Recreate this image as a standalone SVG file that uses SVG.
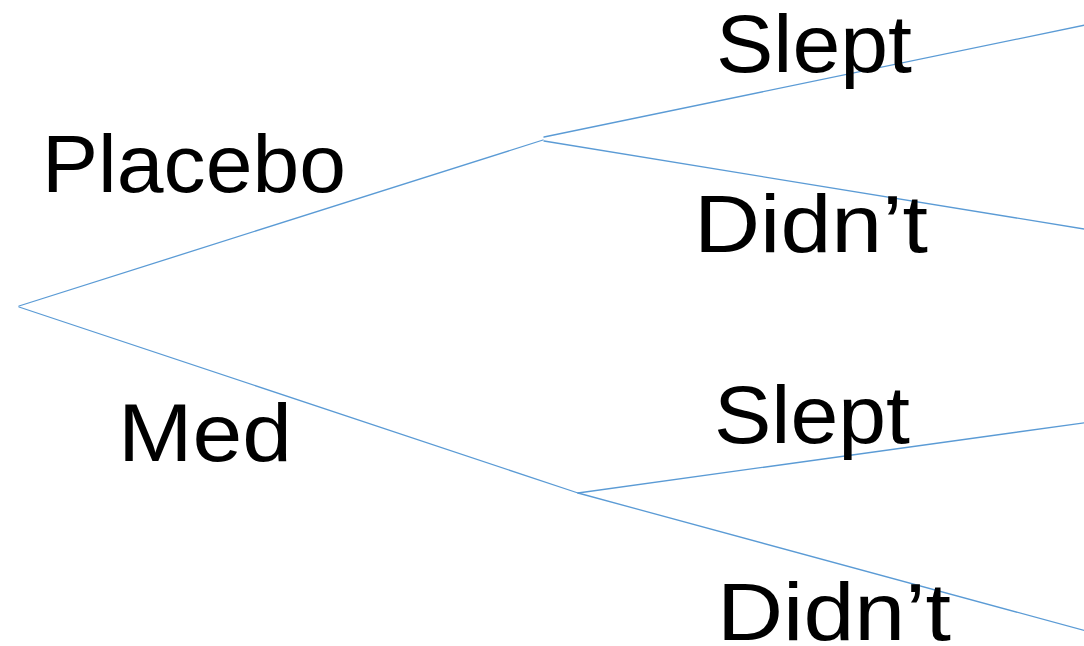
<svg xmlns="http://www.w3.org/2000/svg" width="1084" height="646" viewBox="0 0 1084 646">
  <style>
    .edge { stroke: #5B9BD5; stroke-width: 1.3; fill: none; stroke-linecap: round; }
    .label { font-family: "Liberation Sans", Arial, sans-serif; font-size: 82px; fill: #000; }
  </style>
  <rect width="1084" height="646" fill="#fff"/>

  <!-- branches of the tree -->
  <g id="connectors">
    <line class="edge" x1="19" y1="306" x2="543" y2="140"/>
    <line class="edge" x1="19" y1="307" x2="578" y2="493"/>
    <line class="edge" x1="544" y1="137" x2="1090" y2="24"/>
    <line class="edge" x1="544" y1="141" x2="1090" y2="230"/>
    <line class="edge" x1="578" y1="493" x2="1090" y2="422"/>
    <line class="edge" x1="578" y1="493" x2="1090" y2="632"/>
  </g>

  <g id="placebo">
    <text class="label" x="42" y="192" textLength="304" lengthAdjust="spacingAndGlyphs">Placebo</text>
  </g>
  <g id="med">
    <text class="label" x="118" y="461" textLength="174" lengthAdjust="spacingAndGlyphs">Med</text>
  </g>
  <g id="placebo-slept">
    <text class="label" x="716" y="72" textLength="196" lengthAdjust="spacingAndGlyphs">Slept</text>
  </g>
  <g id="placebo-didnt">
    <text class="label" x="694" y="252" textLength="234" lengthAdjust="spacingAndGlyphs">Didn’t</text>
  </g>
  <g id="med-slept">
    <text class="label" x="714" y="443" textLength="196" lengthAdjust="spacingAndGlyphs">Slept</text>
  </g>
  <g id="med-didnt">
    <text class="label" x="717" y="640" textLength="234" lengthAdjust="spacingAndGlyphs">Didn’t</text>
  </g>
</svg>
